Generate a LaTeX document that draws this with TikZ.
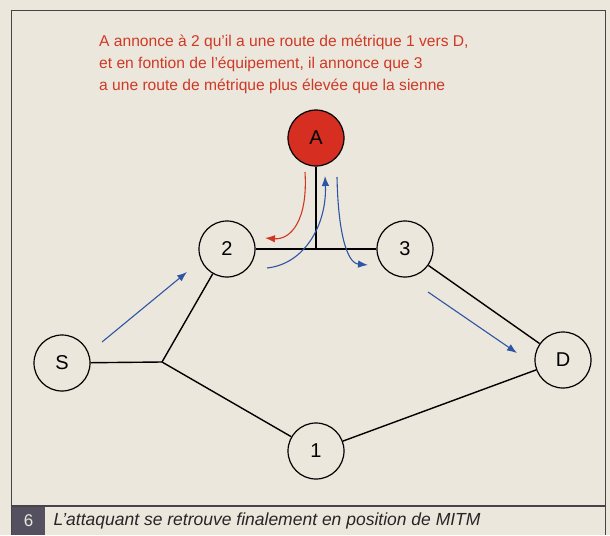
\documentclass[tikz,border=0pt]{standalone}
\usepackage{fontspec}
\setmainfont{Liberation Sans}
\usetikzlibrary{arrows.meta,positioning,calc}

\definecolor{papier}{RGB}{236,231,220}
\definecolor{annonce}{RGB}{208,56,38}
\definecolor{attaquant}{RGB}{214,46,32}
\definecolor{trafic}{RGB}{46,84,166}
\definecolor{cadre}{RGB}{70,68,72}
\definecolor{bandeau}{RGB}{84,80,96}

\begin{document}
\begin{tikzpicture}[x=1pt, y=-1pt,
		routeur/.style={circle, draw, line width=1.2pt, minimum size=56pt, inner sep=0pt,
			fill=papier, font=\fontsize{20}{20}\selectfont},
		lien/.style={line width=1.4pt},
		fleche/.style={line width=1.1pt, -{Latex[length=10pt,width=7.5pt]}}]
		% fond et cadre
		\fill[papier] (0,0) rectangle (610,535);
		\draw[cadre, line width=1pt] (11,535) -- (11,10) -- (605,10) -- (605,535);
		\draw[cadre, line width=1.8pt] (11,506) -- (605,506);
		
		% texte de l'annonce
		\node[anchor=north west, align=left, text=annonce, inner sep=0pt,
			font=\fontsize{15.6}{22}\selectfont] (note) at (99,35)
			{A annonce à 2 qu'il a une route de métrique 1 vers D,\\
			 et en fontion de l'équipement, il annonce que 3\\
			 a une route de métrique plus élevée que la sienne};
		
		% routeurs
		\node[routeur, fill=attaquant]	(A)		at (316,138)	{A};
		\node[routeur]					(n2)	at (227,249)	{2};
		\node[routeur]					(n3)	at (405,249)	{3};
		\node[routeur]					(S)		at (62,363)		{S};
		\node[routeur]					(D)		at (563,360)	{D};
		\node[routeur]					(n1)	at (316,451)	{1};
		\coordinate						(j23)	at (316,249);
		\coordinate						(jS)	at (162,362);
		
		% liens
		\draw[lien] (n2) -- (n3);
		\draw[lien] (A) -- (j23);
		\draw[lien] (S) -- (jS);
		\draw[lien] (jS) -- (n2);
		\draw[lien] (jS) -- (n1);
		\draw[lien] (n3) -- (D);
		\draw[lien] (n1) -- (D);
		
		% trafic
		\draw[fleche, trafic] ($(S)+(40,-21)$) -- ($(n2)+(-40,23)$);
		\draw[fleche, trafic] ($(n3)+(23,43)$) -- ($(D)+(-46,-7)$);
		\draw[fleche, trafic] ($(n2)+(40,19)$) .. controls +(38,-4) and +(2,48) .. ($(A)+(9,38)$);
		\draw[fleche, trafic] ($(A)+(21,39)$) .. controls +(1,52) and +(-22,-2) .. ($(n3)+(-37,16)$);
		\draw[fleche, annonce] ($(A)+(-11,34)$) .. controls +(3,48) and +(26,2) .. ($(n2)+(38,-11)$);
		
		% légende
		\fill[bandeau] (12,507) rectangle (45,535);
		\node[text=papier, font=\fontsize{17}{17}\selectfont] (num) at (28.5,521) {6};
		\node[anchor=west, text=black!85, font=\itshape\fontsize{17.5}{17.5}\selectfont] (legende)
			at (50,521) {L'attaquant se retrouve finalement en position de MITM};
	\end{tikzpicture}
\end{document}
